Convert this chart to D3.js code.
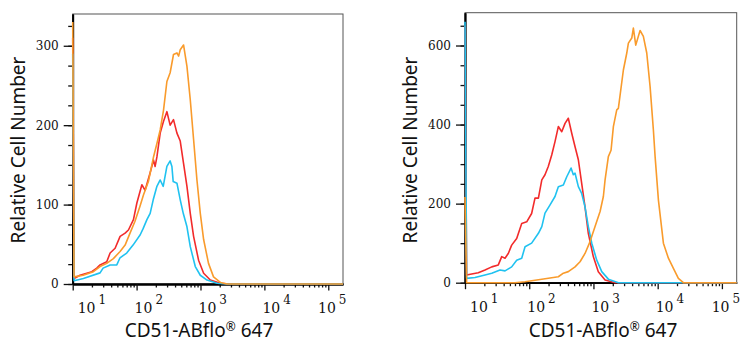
<!DOCTYPE html>
<meta charset="utf-8">
<script src="https://d3js.org/d3.v7.min.js"></script>
<style>
  body { margin: 0; background: #fff; }
</style>
<div id="chart"></div>
<script>

// histogram curves, [fluorescence, cell count]
var leftRed = [[10, 310], [10.5, 7], [13, 11], [16.6, 13.5], [19.9, 15.5], [23.8, 20], [26.8, 24], [34.1, 28], [38.5, 39], [46.1, 45], [55.2, 60], [66.1, 64], [74.5, 68], [89.3, 81], [101, 102], [121, 125], [136, 118], [163, 140], [184, 156], [195, 148], [208, 160], [234, 190], [264, 205], [298, 217], [335, 200], [378, 207], [428, 190], [482, 180], [543, 152], [614, 123], [692, 89], [780, 60], [933, 30], [1120, 13.5], [1425, 5], [2050, 1], [2800, 0], [170000, 0]];
var leftCyan = [[10, 290], [10.5, 4], [14.7, 7], [26.8, 14], [29.9, 20], [38.5, 24], [49, 24], [55, 33], [70, 39], [88, 49], [114, 62], [127, 70], [145, 81], [163, 89], [182, 106], [208, 123], [234, 131], [261, 123], [298, 148], [335, 155], [357, 148], [374, 129], [428, 127], [482, 106], [537, 89], [614, 72], [692, 47], [829, 22], [993, 11], [1265, 5], [1820, 1], [2600, 0], [170000, 0]];
var leftOrange = [[10, 330], [10.5, 9], [14.6, 11], [21.1, 15.5], [26.8, 22], [34.1, 26], [43.3, 32], [55.2, 41], [66.1, 49], [78.9, 64], [94.4, 79], [113, 98], [128, 112], [153, 129], [184, 160], [208, 177], [234, 194], [264, 219], [298, 255], [335, 266], [378, 289], [428, 291], [455, 287], [482, 295], [543, 301], [614, 274], [692, 232], [780, 182], [880, 131], [993, 89], [1120, 56], [1335, 26], [1600, 9], [2050, 2], [2600, 0], [170000, 0]];

var rightRed = [[10, 650], [10.6, 19.5], [12.7, 22], [16.1, 25], [20.5, 32], [26.1, 40], [33, 45], [37.3, 66], [42, 62], [47.2, 74], [53.3, 95], [63.8, 112], [76.4, 150], [91.4, 154], [109, 175], [123, 214], [139, 214], [157, 260], [176, 273], [198, 294], [224, 323], [252, 357], [284, 395], [321, 382], [361, 403], [406, 416], [459, 378], [517, 344], [582, 311], [655, 252], [739, 192], [832, 125], [995, 66], [1190, 28], [1517, 7], [2170, 0], [170000, 0]];
var rightCyan = [[10, 660], [10.6, 11], [14.3, 13], [20.5, 19.5], [26.1, 24], [35.1, 32], [42, 30], [53.3, 40], [63.8, 57], [76.4, 62], [86.1, 91], [109, 100], [139, 125], [157, 142], [176, 176], [211, 197], [252, 218], [284, 243], [340, 247], [384, 268], [448, 290], [486, 273], [517, 277], [582, 243], [655, 226], [739, 192], [832, 142], [942, 100], [1125, 57], [1347, 28], [1706, 9], [2443, 0], [170000, 0]];
var rightOrange = [[10, 217], [10.6, 0], [60, 0], [86, 2.5], [157, 8.6], [224, 12.7], [284, 15], [340, 24], [406, 28], [517, 40], [618, 53], [739, 74], [885, 104], [1059, 142], [1268, 180], [1427, 218], [1517, 260], [1706, 319], [1880, 335], [2043, 395], [2305, 437], [2443, 441], [2924, 538], [3304, 581], [3499, 606], [3953, 619], [4183, 644], [4557, 601], [5320, 638], [5985, 623], [6760, 581], [7620, 496], [8570, 387], [9120, 319], [10270, 209], [12280, 100], [14690, 62], [17580, 36], [21000, 11], [25120, 0], [170000, 0]];

var decades = [1, 2, 3, 4, 5];
var leftYTicks = [0, 100, 200, 300];
var rightYTicks = [0, 200, 400, 600];

var xTitle = "CD51-ABflo";
var yTitle = "Relative Cell Number";

var colors = {red: "#f22b2b", cyan: "#20c2f0", orange: "#f99b2c"};

var svg = d3.select("#chart").append("svg")
    .attr("width", 750)
    .attr("height", 350);

function drawPanel(p) {
  var x = d3.scaleLog().domain([10, 170000]).range([p.left, p.right]);
  var y = d3.scaleLinear().domain([0, p.yMax]).range([p.bottom, p.top]);

  var g = svg.append("g");

  // frame
  g.append("rect")
    .attr("x", p.left).attr("y", p.top)
    .attr("width", p.right - p.left).attr("height", p.bottom - p.top)
    .attr("fill", "none").attr("stroke", "#555").attr("stroke-width", 1);

  // x axis: minor then major ticks
  var minor = [];
  decades.forEach(function(d) {
    for (var k = 2; k <= 9; k++) minor.push(k * Math.pow(10, d));
  });
  minor = minor.filter(function(v) { return v < 170000; });
  var majors = decades.map(function(d) { return Math.pow(10, d); });

  g.append("g")
    .attr("transform", "translate(0," + p.bottom + ")")
    .call(d3.axisBottom(x).tickValues(minor).tickSize(3.5).tickFormat("").tickSizeOuter(0));
  g.append("g")
    .attr("transform", "translate(0," + p.bottom + ")")
    .call(d3.axisBottom(x).tickValues(majors).tickSize(6.5).tickFormat("").tickSizeOuter(0));

  // y axis
  var yMinor = d3.range(0, p.yMax, p.yStep);
  g.append("g")
    .attr("transform", "translate(" + p.left + ",0)")
    .call(d3.axisLeft(y).tickValues(yMinor).tickSize(4.5).tickFormat("").tickSizeOuter(0));
  var yAx = g.append("g")
    .attr("transform", "translate(" + p.left + ",0)")
    .call(d3.axisLeft(y).tickValues(p.yTicks).tickSize(9).tickPadding(5).tickSizeOuter(0));
  yAx.selectAll("text")
    .attr("font-family", "DejaVu Serif")
    .attr("font-size", 12)
    .attr("fill", "#111");

  svg.selectAll(".domain").attr("stroke", "#000").attr("stroke-width", 1.8);
  svg.selectAll(".tick line").attr("stroke", "#111").attr("stroke-width", 1.3);

  // x tick labels: 10 with exponent
  decades.forEach(function(d) {
    var tx = x(Math.pow(10, d)) - 2;
    tx = Math.max(tx, p.left + 5);
    tx = Math.min(tx, p.right - 25);
    var t = g.append("text")
      .attr("x", tx)
      .attr("y", p.bottom + 29)
      .attr("font-family", "DejaVu Serif")
      .attr("font-size", 14)
      .attr("fill", "#111");
    t.append("tspan").text("10");
    t.append("tspan").attr("dx", 3).attr("dy", -9).attr("font-size", 12).text(d);
  });

  // curves
  var line = d3.line()
    .x(function(d) { return x(d[0]); })
    .y(function(d) { return y(d[1]); });

  p.series.forEach(function(s) {
    g.append("path")
      .datum(s.data)
      .attr("fill", "none")
      .attr("stroke", colors[s.color])
      .attr("stroke-width", 1.6)
      .attr("stroke-linejoin", "round")
      .attr("d", line);
  });

  // axis titles
  var xt = g.append("text")
    .attr("x", p.xTitleX)
    .attr("y", 337)
    .attr("text-anchor", "middle")
    .attr("font-family", "Noto Sans")
    .attr("font-size", 19)
    .attr("fill", "#111");
  xt.append("tspan").text(xTitle);
  xt.append("tspan").attr("dy", -6).attr("font-size", 12).text("®");
  xt.append("tspan").attr("dy", 6).text(" 647");

  g.append("text")
    .attr("transform", "translate(" + p.yTitleX + ",150) rotate(-90)")
    .attr("text-anchor", "middle")
    .attr("font-family", "Noto Sans")
    .attr("font-size", 19)
    .attr("fill", "#111")
    .text(yTitle);
}

drawPanel({
  left: 72.7, right: 343, top: 14, bottom: 284,
  yMax: 340, yStep: 25, yTicks: leftYTicks,
  xTitleX: 199, yTitleX: 25,
  series: [
    {data: leftRed, color: "red"},
    {data: leftCyan, color: "cyan"},
    {data: leftOrange, color: "orange"}
  ]
});

drawPanel({
  left: 465, right: 736.7, top: 12.7, bottom: 282.7,
  yMax: 683, yStep: 50, yTicks: rightYTicks,
  xTitleX: 603, yTitleX: 417,
  series: [
    {data: rightRed, color: "red"},
    {data: rightCyan, color: "cyan"},
    {data: rightOrange, color: "orange"}
  ]
});

</script>
